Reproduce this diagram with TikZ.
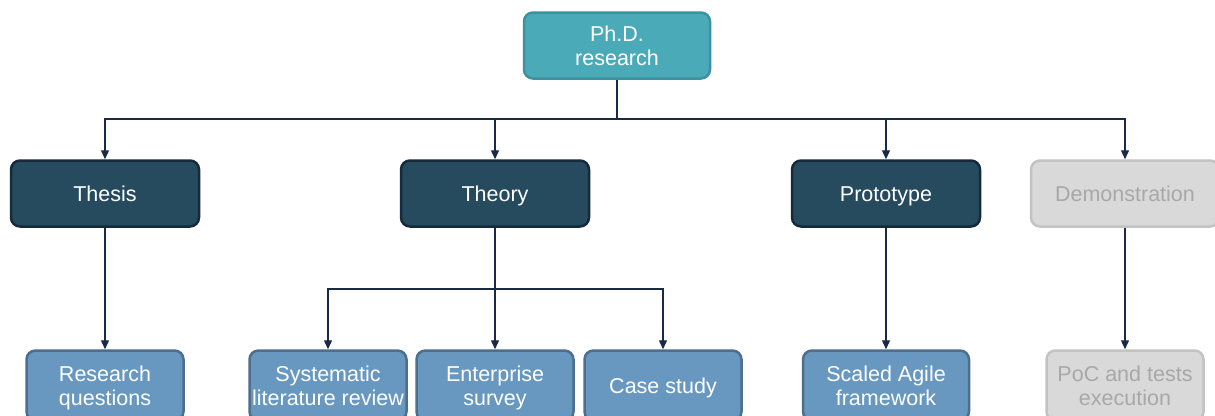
\documentclass[tikz,border=0pt]{standalone}
\usepackage{fontspec}
\setmainfont{Liberation Sans}
\usetikzlibrary{arrows.meta}

\definecolor{rootfill}{HTML}{4BAAB8}
\definecolor{rootline}{HTML}{3E919E}
\definecolor{darkfill}{HTML}{264A5E}
\definecolor{darkline}{HTML}{152B3C}
\definecolor{midfill}{HTML}{6898BF}
\definecolor{midline}{HTML}{4D6E8C}
\definecolor{greyfill}{HTML}{D9D9D9}
\definecolor{greyline}{HTML}{C3C3C3}
\definecolor{greytext}{HTML}{A8A8A8}
\definecolor{wire}{HTML}{1A2945}

% invisible rules fixing the height of the first line and the depth
% of the last line, so that every label sits centred in its box
\newcommand\labeltop{\rule{0pt}{21.5pt}}
\newcommand\labelbottom{\rule[-5pt]{0pt}{5pt}}
% two-line label with both rules inside its lines
\newcommand\twolines[2]{\labeltop#1\\#2\labelbottom}

\tikzset{
  box/.style={rounded corners=9pt, line width=2.5pt, align=center,
    inner sep=0pt, font=\fontsize{21.5}{24}\selectfont, text=white},
  oneline/.style={execute at begin node=\labeltop,
    execute at end node=\labelbottom},
  rootbox/.style={box, fill=rootfill, draw=rootline,
    minimum width=186pt, minimum height=66pt},
  topbox/.style={box, oneline, fill=darkfill, draw=darkline,
    minimum width=188pt, minimum height=66pt},
  leafbox/.style={box, fill=midfill, draw=midline,
    minimum width=157pt, minimum height=70pt},
  offbox/.style={fill=greyfill, draw=greyline, text=greytext},
  link/.style={draw=wire, line width=1.4pt},
  arr/.style={link, -{Triangle[width=8pt,length=9pt]}},
}

\begin{document}
\begin{tikzpicture}[x=1pt,y=-1pt]
\clip (0,0) rectangle (1215,415);
\fill[white] (0,0) rectangle (1215,415);

% root
\node[rootbox] (phd) at (617,45.5) {\twolines{Ph.D.}{research}};

% first level
\node[topbox] (thesis) at (105,193.5) {Thesis};
\node[topbox] (theory) at (495,193.5) {Theory};
\node[topbox] (proto)  at (886,193.5) {Prototype};
\node[topbox, offbox] (demo) at (1125,193.5) {Demonstration};

% second level
\node[leafbox] (rq)   at (105,385.5) {\twolines{Research}{questions}};
\node[leafbox] (slr)  at (328,385.5) {\twolines{Systematic}{literature review}};
\node[leafbox] (surv) at (495,385.5) {\twolines{Enterprise}{survey}};
\node[leafbox, oneline] (case) at (663,385.5) {Case study};
\node[leafbox, minimum width=166pt] (safe) at (886,385.5) {\twolines{Scaled Agile}{framework}};
\node[leafbox, offbox] (poc) at (1125,385.5) {\twolines{PoC and tests}{execution}};

% connectors from the root
\coordinate (bus) at (617,119);
\draw[link] (phd.south) -- (bus);
\draw[arr] (bus) -| (thesis.north);
\draw[arr] (bus) -| (theory.north);
\draw[arr] (bus) -| (proto.north);
\draw[arr] (bus) -| (demo.north);

% connectors to the second level
\coordinate (fork) at (495,289);
\draw[arr] (thesis.south) -- (rq.north);
\draw[arr] (theory.south) -- (surv.north);
\draw[arr] (fork) -| (slr.north);
\draw[arr] (fork) -| (case.north);
\draw[arr] (proto.south) -- (safe.north);
\draw[arr] (demo.south) -- (poc.north);
\end{tikzpicture}
\end{document}
